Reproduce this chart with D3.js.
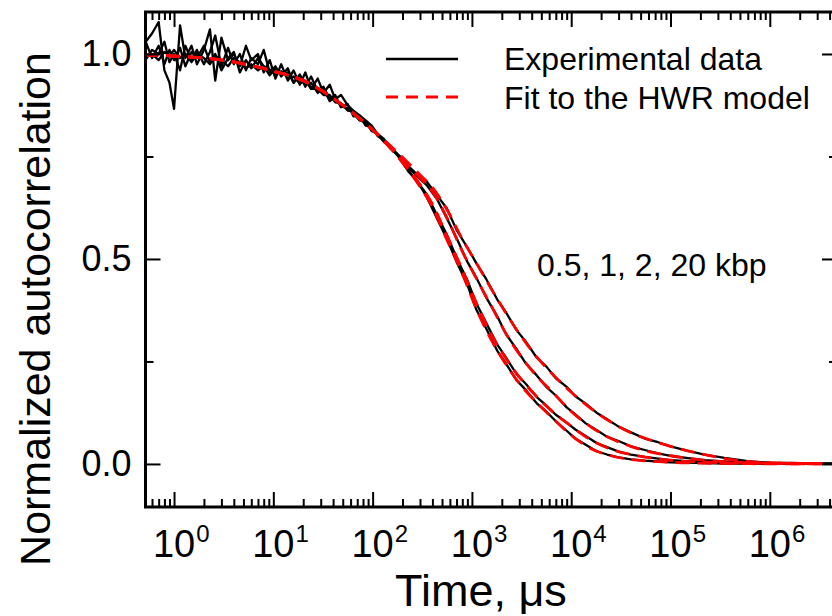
<!DOCTYPE html>
<html>
<head>
<meta charset="utf-8">
<script src="https://cdn.jsdelivr.net/npm/d3@7"></script>
<style>
  body { margin: 0; background: #fff; }
  svg { display: block; font-family: "Liberation Sans", Arial, Helvetica, sans-serif; }
</style>
</head>
<body>
<svg id="chart"></svg>
<script>
// ---- data (time in microseconds) ----
const seriesNames = ['0.5 kbp', '1 kbp', '2 kbp', '20 kbp'];

const expTimes = [0.5, 0.6, 0.7, 0.8, 0.9, 1.0, 1.15, 1.3, 1.5, 1.7, 2.0, 2.3, 2.6, 3.0, 3.5, 4.0, 4.6, 5.3, 6.0, 7.0,
    8.0, 9.2, 10.5, 12, 14, 16, 18.5, 21, 24, 28, 32, 37, 42, 48, 56, 64, 74, 85, 98, 112, 130, 150, 175, 200, 230,
    265, 300, 350, 450, 560, 700, 900, 1100, 1400, 1800, 2200, 2800, 3500, 4500, 5600, 7000, 9000, 11000, 14000,
    18000, 23000, 30000, 40000, 55000, 75000, 1e5, 1.5e5, 2.2e5, 3.5e5, 6e5, 1e6, 2e6, 4e6, 1e7];

const exp05 = [1.025, 1.05, 1.078, 0.96, 0.93, 0.866, 1.07, 0.99, 1.02, 0.975, 1.01, 1.06, 0.935, 1.04, 0.985, 1.0,
    0.97, 1.02, 0.985, 1.0, 0.955, 0.985,
    0.94, 0.975, 0.935, 0.96, 0.925, 0.955, 0.915, 0.94, 0.905, 0.925, 0.89, 0.9, 0.875, 0.862, 0.85, 0.838,
    0.825, 0.805, 0.793, 0.772, 0.755, 0.735, 0.713, 0.697, 0.678,
    0.652, 0.596, 0.549, 0.493, 0.437, 0.378, 0.329, 0.276, 0.245, 0.205, 0.18, 0.148, 0.128, 0.104, 0.081, 0.062,
    0.047, 0.031, 0.023, 0.016, 0.011, 0.008, 0.006, 0.004, 0.003, 0.002, 0.001, 0.001, 0, 0, 0, 0];

const exp1 = [0.98, 1.01, 1.0, 1.03, 0.98, 1.0, 0.96, 1.02, 0.985, 1.01, 0.975, 1.005, 1.045, 0.97, 1.015, 0.975,
    1.0, 0.96, 0.99, 0.975, 1.01, 0.955,
    0.97, 0.945, 0.965, 0.93, 0.95, 0.92, 0.945, 0.91, 0.92, 0.89, 0.9, 0.87, 0.878, 0.848, 0.85, 0.825,
    0.822, 0.8, 0.79, 0.77, 0.758, 0.735, 0.716, 0.696, 0.68,
    0.658, 0.605, 0.559, 0.503, 0.448, 0.393, 0.343, 0.291, 0.26, 0.22, 0.195, 0.163, 0.143, 0.12, 0.101, 0.084,
    0.068, 0.051, 0.041, 0.03, 0.023, 0.017, 0.013, 0.009, 0.007, 0.005, 0.003, 0.002, 0.001, 0, 0, 0];

const exp2 = [1.04, 0.99, 1.02, 0.975, 1.01, 0.985, 1.015, 0.97, 1.005, 0.99, 1.02, 0.98, 1.0, 0.96, 0.99, 1.005,
    0.955, 0.985, 0.965, 0.99, 0.97, 0.948,
    0.965, 0.952, 0.955, 0.93, 0.948, 0.925, 0.93, 0.905, 0.915, 0.885, 0.895, 0.872, 0.868, 0.855, 0.838, 0.834,
    0.812, 0.805, 0.785, 0.774, 0.755, 0.742, 0.722, 0.708, 0.695,
    0.68, 0.644, 0.599, 0.551, 0.493, 0.456, 0.405, 0.36, 0.317, 0.281, 0.245, 0.216, 0.188, 0.167, 0.138, 0.121,
    0.099, 0.083, 0.066, 0.056, 0.043, 0.034, 0.026, 0.02, 0.014, 0.009, 0.006, 0.003, 0.002, 0.001, 0.001, 0];

const exp20 = [0.99, 1.0, 0.985, 1.005, 0.995, 1.01, 0.99, 1.0, 0.98, 1.0, 0.99, 0.975, 0.995, 0.985, 0.97, 0.99,
    0.98, 0.965, 0.975, 0.96, 0.97, 0.962,
    0.95, 0.958, 0.942, 0.945, 0.928, 0.935, 0.915, 0.915, 0.9, 0.9, 0.882, 0.88, 0.862, 0.86, 0.84, 0.832,
    0.815, 0.806, 0.787, 0.777, 0.757, 0.746, 0.726, 0.712, 0.702,
    0.689, 0.654, 0.623, 0.571, 0.528, 0.491, 0.45, 0.401, 0.37, 0.327, 0.298, 0.259, 0.238, 0.209, 0.188, 0.165,
    0.147, 0.125, 0.109, 0.091, 0.077, 0.062, 0.053, 0.043, 0.032, 0.023, 0.015, 0.007, 0.003, 0.002, 0.001, 0];

const fitTimes = [0.5, 1, 2, 5, 10, 20, 50, 100, 200, 316, 398, 562, 794, 1122, 1585, 2239, 3162, 4467, 6310,
    10000, 15850, 25120, 39810, 63100, 1e5, 2e5, 5e5, 1e6, 3.4e6];

const fit05 = [0.997, 0.995, 0.99, 0.976, 0.958, 0.935, 0.875, 0.815, 0.735, 0.668, 0.627, 0.546, 0.466, 0.375, 0.30,
    0.24, 0.19, 0.15, 0.115, 0.07, 0.037, 0.02, 0.011, 0.007, 0.004, 0.002, 0.001, 0, 0];
const fit1 = [0.997, 0.995, 0.99, 0.976, 0.958, 0.935, 0.875, 0.815, 0.737, 0.674, 0.635, 0.556, 0.476, 0.39, 0.315,
    0.255, 0.205, 0.165, 0.13, 0.092, 0.058, 0.036, 0.023, 0.015, 0.009, 0.005, 0.002, 0.001, 0];
const fit2 = [0.997, 0.995, 0.99, 0.976, 0.958, 0.935, 0.875, 0.815, 0.745, 0.692, 0.665, 0.60, 0.52, 0.45, 0.383,
    0.315, 0.26, 0.215, 0.178, 0.128, 0.09, 0.062, 0.043, 0.029, 0.02, 0.01, 0.004, 0.002, 0.001];
const fit20 = [0.997, 0.995, 0.99, 0.976, 0.958, 0.935, 0.875, 0.815, 0.748, 0.70, 0.675, 0.62, 0.55, 0.488, 0.425,
    0.365, 0.31, 0.262, 0.222, 0.175, 0.135, 0.102, 0.076, 0.058, 0.043, 0.025, 0.008, 0.003, 0.001];

const xTickExponents = [0, 1, 2, 3, 4, 5, 6];
const yTicks = [0, 0.5, 1.0];
const yTickLabels = ['0.0', '0.5', '1.0'];
const yMinorTicks = [0.25, 0.75];

const legendLabels = ['Experimental data', 'Fit to the HWR model'];
const annotationText = '0.5, 1, 2, 20 kbp';
const xTitle = 'Time, \u03bcs';
const yTitle = 'Normalized autocorrelation';


class autocorrChart {

    constructor(_config) {
        this.config = {
            parentElement: _config.parentElement,
            containerWidth: 832,
            containerHeight: 616,
            // right margin is negative: the frame runs past the picture edge
            margin: { top: 12, bottom: 109, right: -5, left: 145.5 }
        }
        this.initVis();
    }

    initVis() {
        let vis = this;

        vis.width = vis.config.containerWidth - vis.config.margin.left - vis.config.margin.right;
        vis.height = vis.config.containerHeight - vis.config.margin.top - vis.config.margin.bottom;

        vis.xScale = d3.scaleLog()
            .domain([0.516, 4.75e6])
            .range([0, vis.width]);

        vis.yScale = d3.scaleLinear()
            .domain([-0.105, 1.1024])
            .range([vis.height, 0]);

        vis.svg = d3.select(vis.config.parentElement)
            .attr('width', vis.config.containerWidth)
            .attr('height', vis.config.containerHeight);

        vis.chart = vis.svg.append('g')
            .attr('transform', `translate(${vis.config.margin.left},${vis.config.margin.top})`);

        vis.chart.append('clipPath')
            .attr('id', 'plot-clip')
            .append('rect')
            .attr('width', vis.width)
            .attr('height', vis.height);

        vis.curvesG = vis.chart.append('g').attr('clip-path', 'url(#plot-clip)');
        vis.axesG = vis.chart.append('g');

        vis.updateVis();
    }

    updateVis() {
        let vis = this;

        let majorX = xTickExponents.map(e => Math.pow(10, e));
        vis.majorX = majorX;
        vis.minorX = vis.xScale.ticks().filter(t => !majorX.some(m => Math.abs(m - t) / m < 1e-9));

        let zip = (ts, vs) => ts.map((t, i) => [t, vs[i]]);
        vis.expData = [exp05, exp1, exp2, exp20].map(vs => zip(expTimes, vs));
        vis.fitData = [fit05, fit1, fit2, fit20].map(vs => zip(fitTimes, vs));

        vis.expLine = d3.line()
            .x(d => vis.xScale(d[0]))
            .y(d => vis.yScale(d[1]));

        vis.fitLine = d3.line()
            .x(d => vis.xScale(d[0]))
            .y(d => vis.yScale(d[1]))
            .curve(d3.curveMonotoneX);

        vis.renderVis();
    }

    renderVis() {
        let vis = this;

        // experimental curves (black) underneath the fits (red dashed)
        vis.curvesG.selectAll('.exp-line')
            .data(vis.expData)
            .join('path')
            .attr('class', 'exp-line')
            .attr('fill', 'none')
            .attr('stroke', '#000')
            .attr('stroke-width', 2.3)
            .attr('stroke-linejoin', 'round')
            .attr('d', vis.expLine);

        vis.curvesG.selectAll('.fit-line')
            .data(vis.fitData)
            .join('path')
            .attr('class', 'fit-line')
            .attr('fill', 'none')
            .attr('stroke', '#ff0000')
            .attr('stroke-width', 2.8)
            .attr('stroke-dasharray', '14,8')
            .attr('d', vis.fitLine);

        // ticks on all four sides, pointing inward
        let axisSpecs = [
            { axis: d3.axisBottom(vis.xScale).tickValues(vis.majorX).tickSizeInner(-15), at: `translate(0,${vis.height})` },
            { axis: d3.axisBottom(vis.xScale).tickValues(vis.minorX).tickSizeInner(-8), at: `translate(0,${vis.height})` },
            { axis: d3.axisTop(vis.xScale).tickValues(vis.majorX).tickSizeInner(-15), at: 'translate(0,0)' },
            { axis: d3.axisTop(vis.xScale).tickValues(vis.minorX).tickSizeInner(-8), at: 'translate(0,0)' },
            { axis: d3.axisLeft(vis.yScale).tickValues(yTicks).tickSizeInner(-15), at: 'translate(0,0)', labels: true },
            { axis: d3.axisLeft(vis.yScale).tickValues(yMinorTicks).tickSizeInner(-8), at: 'translate(0,0)' },
            { axis: d3.axisRight(vis.yScale).tickValues(yTicks).tickSizeInner(-15), at: `translate(${vis.width},0)` },
            { axis: d3.axisRight(vis.yScale).tickValues(yMinorTicks).tickSizeInner(-8), at: `translate(${vis.width},0)` }
        ];

        axisSpecs.forEach(s => {
            s.axis.tickSizeOuter(0);
            if (s.labels) {
                s.axis.tickPadding(14).tickFormat((d, i) => yTickLabels[i]);
            } else {
                s.axis.tickFormat('');
            }
            let g = vis.axesG.append('g')
                .attr('transform', s.at)
                .call(s.axis);
            g.select('.domain').remove();
            g.selectAll('.tick line').attr('stroke', '#000').attr('stroke-width', 2);
            g.selectAll('.tick text')
                .attr('font-size', 36)
                .attr('font-family', null)
                .attr('fill', '#000');
        });

        // frame
        vis.axesG.append('rect')
            .attr('width', vis.width)
            .attr('height', vis.height)
            .attr('fill', 'none')
            .attr('stroke', '#000')
            .attr('stroke-width', 3);

        // x tick labels: 10 with a superscript exponent
        let xLab = vis.axesG.selectAll('.x-label')
            .data(xTickExponents)
            .join('g')
            .attr('class', 'x-label')
            .attr('transform', d => `translate(${vis.xScale(Math.pow(10, d))},${vis.height + 50})`);

        xLab.append('text')
            .attr('text-anchor', 'middle')
            .attr('font-size', 38)
            .text('10');

        xLab.append('text')
            .attr('x', function() {
                return this.parentNode.querySelector('text').getComputedTextLength() / 2 + 1;
            })
            .attr('y', -15)
            .attr('font-size', 24)
            .text(d => d);

        // axis titles
        vis.svg.append('text')
            .attr('x', 481)
            .attr('y', 606)
            .attr('text-anchor', 'middle')
            .attr('font-size', 45)
            .text(xTitle);

        vis.svg.append('text')
            .attr('transform', 'translate(50,309) rotate(-90)')
            .attr('text-anchor', 'middle')
            .attr('font-size', 43)
            .text(yTitle);

        // legend
        let legend = vis.svg.append('g');
        legend.append('line')
            .attr('x1', 386).attr('x2', 458)
            .attr('y1', 59).attr('y2', 59)
            .attr('stroke', '#000')
            .attr('stroke-width', 2.3);
        legend.append('line')
            .attr('x1', 386).attr('x2', 466)
            .attr('y1', 97).attr('y2', 97)
            .attr('stroke', '#ff0000')
            .attr('stroke-width', 2.8)
            .attr('stroke-dasharray', '12,8');
        legend.selectAll('.legend-text')
            .data(legendLabels)
            .join('text')
            .attr('class', 'legend-text')
            .attr('x', 504)
            .attr('y', (d, i) => 70 + i * 39)
            .attr('font-size', 32)
            .text(d => d);

        vis.svg.append('text')
            .attr('x', 537)
            .attr('y', 276)
            .attr('font-size', 32)
            .text(annotationText);
    }
}

new autocorrChart({ parentElement: '#chart' });
</script>
</body>
</html>
